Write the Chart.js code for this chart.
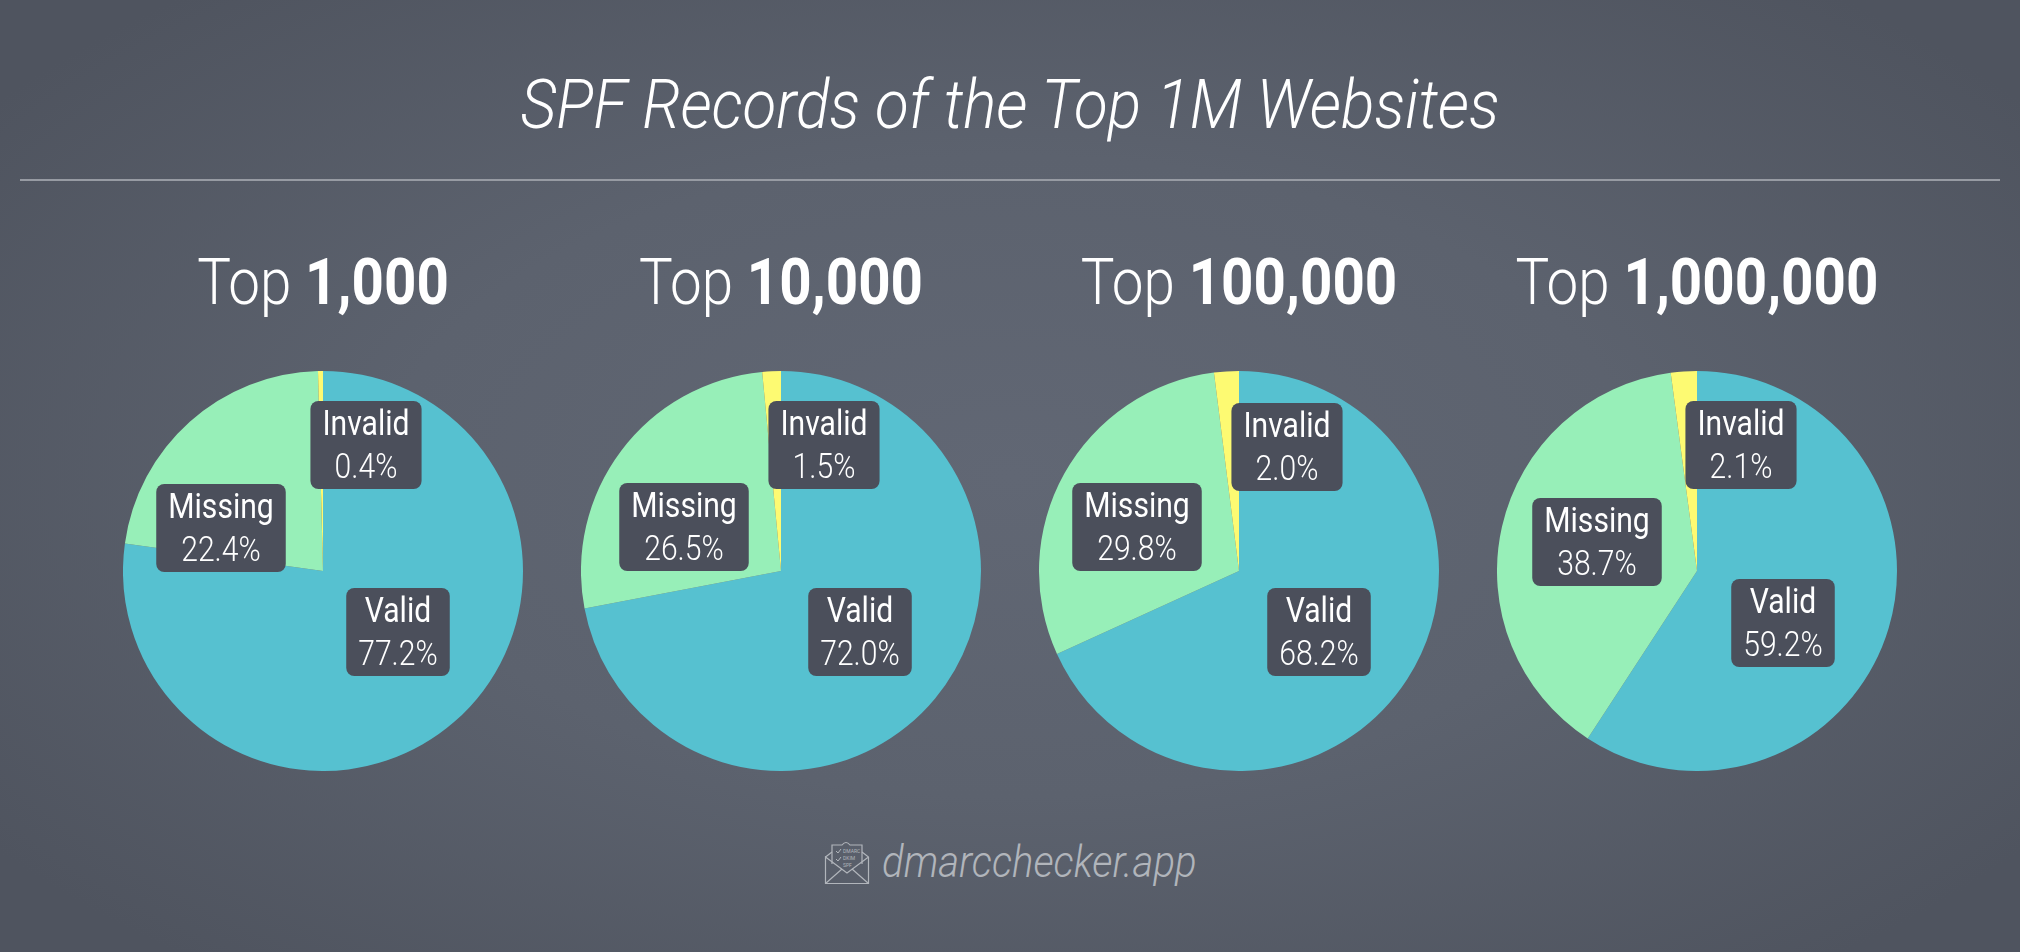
<!DOCTYPE html>
<html>
<head>
<meta charset="utf-8">
<script src="https://cdn.jsdelivr.net/npm/chart.js@4"></script>
<style>
  html, body { margin: 0; padding: 0; }
  #page {
    position: relative; width: 2020px; height: 952px; overflow: hidden;
    background: radial-gradient(ellipse 1250px 640px at 50% 50%, #616774 0%, #5c626e 50%, #4f545f 100%);
    font-family: Roboto, sans-serif; color: #fff;
  }
  #title {
    position: absolute; left: 0; width: 2020px; top: 61px; text-align: center;
    font-size: 69px; line-height: 88px; font-weight: 300; font-style: italic;
    transform: scaleX(0.9);
  }
  #rule { position: absolute; left: 20px; top: 179px; width: 1980px; height: 2px; background: #979ba3; }
  .head {
    position: absolute; top: 243px; width: 458px; text-align: center;
    font-size: 64px; line-height: 80px; font-weight: 300; white-space: nowrap;
    transform: scaleX(0.884);
  }
  .head b { font-weight: 700; }
  canvas { position: absolute; top: 371px; }
  #brand {
    position: absolute; left: 882px; top: 832px;
    font-size: 44px; line-height: 60px; font-weight: 300; font-style: italic; color: #b1b5bb;
    transform: scaleX(0.913); transform-origin: left center;
  }
  #logo { position: absolute; left: 824px; top: 840px; }
</style>
</head>
<body>
<div id="page">
  <div id="title">SPF Records of the Top 1M Websites</div>
  <div id="rule"></div>
  <div id="charts"></div>
  <svg id="logo" width="46" height="46" viewBox="0 0 46 46" fill="none" stroke="#b1b5bb" stroke-width="1.2">
    <path d="M1.5 17 L8 12 M38 12 L44.5 17 V43.5 H1.5 V17 L23 33 L44.5 17"/>
    <path d="M1.5 43.5 L18 29 M44.5 43.5 L28 29"/>
    <path d="M8 24 V5 H18 Q22 0 26 5 H38 V24"/>
    <path d="M12 11 L14 13 L17 9 M12 19 L14 21 L17 17" stroke-width="1"/>
    <g fill="#b1b5bb" stroke="none" font-family="Roboto" font-size="5">
      <text x="19" y="13">DMARC</text>
      <text x="19" y="20">DKIM</text>
      <text x="19" y="27">SPF</text>
    </g>
  </svg>
  <div id="brand">dmarcchecker.app</div>
</div>
<script>
const categories = ["Valid", "Missing", "Invalid"];
const tiers = ["1,000", "10,000", "100,000", "1,000,000"];
const top1k = [77.2, 22.4, 0.4];
const top10k = [72.0, 26.5, 1.5];
const top100k = [68.2, 29.8, 2.0];
const top1m = [59.2, 38.7, 2.1];
const seriesList = [top1k, top10k, top100k, top1m];

const colors = ["#56c1d0", "#97efb8", "#fdfa72"];

// where each pie sits on the page, and its label boxes relative to the pie centre
const pieLeft = [123, 581, 1039, 1497];
const pieSize = 400;
const labelSpots = [
  [[75, 61], [-102, -43], [43, -126]],
  [[79, 61], [-97, -44], [43, -126]],
  [[80, 61], [-102, -44], [48, -124]],
  [[86, 52], [-100, -29], [44, -126]]
];
const squeeze = 0.86; // the reference type is narrower than plain Roboto

function narrowText(ctx, text, x, y) {
  ctx.save();
  ctx.translate(x, y);
  ctx.scale(squeeze, 1);
  ctx.fillText(text, 0, 0);
  ctx.restore();
}

const labelBoxes = {
  id: "labelBoxes",
  afterDatasetsDraw(chart, args, opts) {
    const ctx = chart.ctx;
    const arcs = chart.getDatasetMeta(0).data;
    const values = chart.data.datasets[0].data;
    arcs.forEach((arc, i) => {
      const x = arc.x + opts.spots[i][0];
      const y = arc.y + opts.spots[i][1];
      const text = values[i].toFixed(1) + "%";

      ctx.font = "400 35px Roboto";
      const w1 = ctx.measureText(chart.data.labels[i]).width;
      ctx.font = "300 35px Roboto";
      const w2 = ctx.measureText(text).width;
      const w = Math.max(w1, w2) * squeeze + 24;

      ctx.fillStyle = "#4b4f5b";
      ctx.beginPath();
      ctx.roundRect(x - w / 2, y - 44, w, 88, 8);
      ctx.fill();

      ctx.fillStyle = "#fff";
      ctx.textAlign = "center";
      ctx.textBaseline = "alphabetic";
      ctx.font = "400 35px Roboto";
      narrowText(ctx, chart.data.labels[i], x, y - 10);
      ctx.font = "300 35px Roboto";
      narrowText(ctx, text, x, y + 33);
    });
  }
};

const holder = document.getElementById("charts");

seriesList.forEach((values, n) => {
  const head = document.createElement("div");
  head.className = "head";
  head.style.left = (pieLeft[n] + pieSize / 2 - 229) + "px";
  head.innerHTML = `Top <b>${tiers[n]}</b>`;
  holder.appendChild(head);

  const canvas = document.createElement("canvas");
  canvas.width = pieSize;
  canvas.height = pieSize;
  canvas.style.left = pieLeft[n] + "px";
  holder.appendChild(canvas);

  new Chart(canvas.getContext("2d"), {
    type: "pie",
    data: {
      labels: categories,
      datasets: [{ data: values, backgroundColor: colors, borderWidth: 0 }]
    },
    options: {
      responsive: false,
      animation: false,
      devicePixelRatio: 1,
      layout: { padding: 0 },
      plugins: {
        legend: { display: false },
        tooltip: { enabled: false },
        labelBoxes: { spots: labelSpots[n] }
      }
    },
    plugins: [labelBoxes]
  });
});
</script>
</body>
</html>
